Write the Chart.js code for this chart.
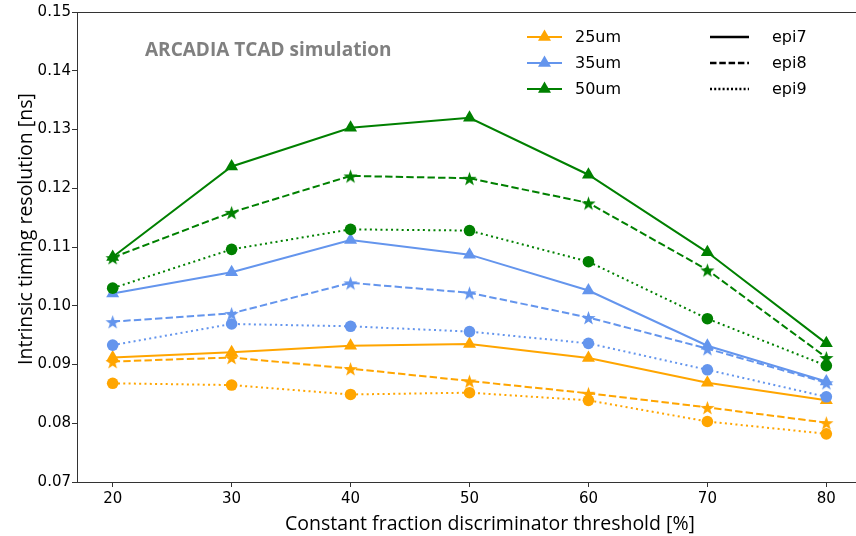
<!DOCTYPE html>
<html>
<head>
<meta charset="utf-8">
<script src="https://cdn.jsdelivr.net/npm/chart.js@4.4.1/dist/chart.umd.min.js"></script>
<style>
    body { margin: 0; overflow: hidden; background: #fff; }
    canvas { display: block; }
</style>
</head>
<body>
<canvas id="grafico" width="880" height="536"></canvas>
<script>
// thresholds [%]
var limiares = [20, 30, 40, 50, 60, 70, 80];
var ticksX = [20, 30, 40, 50, 60, 70, 80];
var ticksY = [0.07, 0.08, 0.09, 0.10, 0.11, 0.12, 0.13, 0.14, 0.15];

// timing resolution [ns]
var um25_epi7 = [0.0912, 0.0921, 0.0932, 0.0935, 0.0911, 0.0869, 0.0839];
var um25_epi8 = [0.0905, 0.0912, 0.0893, 0.0872, 0.0851, 0.0827, 0.0801];
var um25_epi9 = [0.0868, 0.0865, 0.0849, 0.0852, 0.0839, 0.0803, 0.0782];

var um35_epi7 = [0.1021, 0.1057, 0.1112, 0.1087, 0.1026, 0.0932, 0.0871];
var um35_epi8 = [0.0973, 0.0987, 0.1039, 0.1022, 0.0980, 0.0927, 0.0869];
var um35_epi9 = [0.0933, 0.0969, 0.0965, 0.0956, 0.0936, 0.0891, 0.0845];

var um50_epi7 = [0.1083, 0.1237, 0.1303, 0.1320, 0.1223, 0.1091, 0.0936];
var um50_epi8 = [0.1082, 0.1159, 0.1221, 0.1217, 0.1175, 0.1061, 0.0912];
var um50_epi9 = [0.1030, 0.1096, 0.1130, 0.1128, 0.1075, 0.0978, 0.0898];

var rotulosEspessura = ['25um', '35um', '50um'];
var rotulosEpi = ['epi7', 'epi8', 'epi9'];
var tituloX = 'Constant fraction discriminator threshold [%]';
var tituloY = 'Intrinsic timing resolution [ns]';

var corLaranja = '#ffa500';
var corAzul = '#6495ed';
var corVerde = '#008000';

var tracejado = [7.4, 3.2];
var pontilhado = [2, 3.3];

function criarEstrela(cor) {
    var r = 7.5;
    var c = document.createElement('canvas');
    c.width = 2 * r + 2;
    c.height = 2 * r + 2;
    var ctx = c.getContext('2d');
    ctx.fillStyle = cor;
    ctx.beginPath();
    for (let i = 0; i < 10; i++) {
        var raio = i % 2 == 0 ? r : r * 0.4;
        var ang = -Math.PI / 2 + i * Math.PI / 5;
        var px = c.width / 2 + raio * Math.cos(ang);
        var py = c.height / 2 + 1 + raio * Math.sin(ang);
        if (i == 0) ctx.moveTo(px, py); else ctx.lineTo(px, py);
    }
    ctx.closePath();
    ctx.fill();
    return c;
}

function serie(valores, cor, estilo, tracos) {
    var pontos = [];
    for (let i = 0; i < limiares.length; i++) {
        pontos.push({ x: limiares[i], y: valores[i] });
    }
    var ds = {
        data: pontos,
        borderColor: cor,
        backgroundColor: cor,
        borderWidth: 2,
        borderDash: tracos,
        pointBorderWidth: 0,
        pointBackgroundColor: cor,
        pointBorderColor: cor,
        pointStyle: estilo,
        pointRadius: estilo == 'triangle' ? 7.5 : 5.8,
        tension: 0
    };
    return ds;
}

var datasets = [
    serie(um25_epi7, corLaranja, 'triangle', []),
    serie(um25_epi8, corLaranja, criarEstrela(corLaranja), tracejado),
    serie(um25_epi9, corLaranja, 'circle', pontilhado),
    serie(um35_epi7, corAzul, 'triangle', []),
    serie(um35_epi8, corAzul, criarEstrela(corAzul), tracejado),
    serie(um35_epi9, corAzul, 'circle', pontilhado),
    serie(um50_epi7, corVerde, 'triangle', []),
    serie(um50_epi8, corVerde, criarEstrela(corVerde), tracejado),
    serie(um50_epi9, corVerde, 'circle', pontilhado)
];
// later series drawn on top, like matplotlib
for (let i = 0; i < datasets.length; i++) {
    datasets[i].order = datasets.length - i;
}

// frame, axis titles, annotation text and the two-column legend
var extras = {
    id: 'extras',
    afterDraw: function (chart) {
        var ctx = chart.ctx;
        var a = chart.chartArea;
        ctx.save();
        ctx.strokeStyle = '#333';
        ctx.lineWidth = 1;
        ctx.strokeRect(a.left + 0.5, a.top + 0.5, a.right - a.left, a.bottom - a.top);

        // axis titles
        ctx.fillStyle = '#000';
        ctx.font = '19.5px "Open Sans"';
        ctx.textAlign = 'center';
        ctx.textBaseline = 'alphabetic';
        ctx.fillText(tituloX, 490, 530);
        ctx.save();
        ctx.translate(32, 229);
        ctx.rotate(-Math.PI / 2);
        ctx.fillText(tituloY, 0, 0);
        ctx.restore();

        ctx.fillStyle = '#808080';
        ctx.font = 'bold 19px "Open Sans"';
        ctx.textAlign = 'left';
        ctx.textBaseline = 'middle';
        ctx.fillText('ARCADIA TCAD simulation', 145, 51);

        var cores = [corLaranja, corAzul, corVerde];
        var linhasY = [37, 63, 89];
        ctx.font = '16px "DejaVu Sans"';
        for (let i = 0; i < 3; i++) {
            var y = linhasY[i];
            ctx.strokeStyle = cores[i];
            ctx.lineWidth = 2;
            ctx.setLineDash([]);
            ctx.beginPath();
            ctx.moveTo(527, y);
            ctx.lineTo(562, y);
            ctx.stroke();
            ctx.fillStyle = cores[i];
            ctx.beginPath();
            ctx.moveTo(544.5, y - 7.5);
            ctx.lineTo(544.5 + 6.5, y + 3.75);
            ctx.lineTo(544.5 - 6.5, y + 3.75);
            ctx.closePath();
            ctx.fill();
            ctx.fillStyle = '#000';
            ctx.fillText(rotulosEspessura[i], 575, y + 1);
        }
        var estilos = [[], [6.5, 2.8], [2, 2.2]];
        for (let i = 0; i < 3; i++) {
            var y = linhasY[i];
            ctx.strokeStyle = '#000';
            ctx.lineWidth = 2.5;
            ctx.setLineDash(estilos[i]);
            ctx.beginPath();
            ctx.moveTo(710, y);
            ctx.lineTo(749, y);
            ctx.stroke();
            ctx.fillStyle = '#000';
            ctx.fillText(rotulosEpi[i], 772, y + 1);
        }
        ctx.restore();
    }
};

var grafico = new Chart(document.getElementById('grafico'), {
    type: 'line',
    data: { datasets: datasets },
    plugins: [extras],
    options: {
        responsive: false,
        animation: false,
        devicePixelRatio: 1,
        layout: { padding: { left: 0, top: 12, right: 18, bottom: 0 } },
        plugins: {
            legend: { display: false },
            tooltip: { enabled: false }
        },
        scales: {
            x: {
                type: 'linear',
                min: 17,
                max: 83,
                afterBuildTicks: function (s) { s.ticks = ticksX.map(v => ({ value: v })); },
                afterFit: function (s) { s.height = 54; },
                ticks: {
                    color: '#000',
                    padding: 3,
                    font: { family: 'DejaVu Sans', size: 15 },
                    maxRotation: 0,
                    callback: v => String(v)
                },
                grid: { drawOnChartArea: false, drawTicks: true, tickLength: 5, tickColor: '#333' },
                border: { color: '#333', width: 1 }
            },
            y: {
                min: 0.07,
                max: 0.15,
                afterBuildTicks: function (s) { s.ticks = ticksY.map(v => ({ value: v })); },
                afterFit: function (s) { s.width = 77; },
                ticks: {
                    color: '#000',
                    padding: 1,
                    font: { family: 'DejaVu Sans', size: 15 },
                    callback: v => v.toFixed(2)
                },
                grid: { drawOnChartArea: false, drawTicks: true, tickLength: 5, tickColor: '#333' },
                border: { color: '#333', width: 1 }
            }
        }
    }
});
</script>
</body>
</html>
